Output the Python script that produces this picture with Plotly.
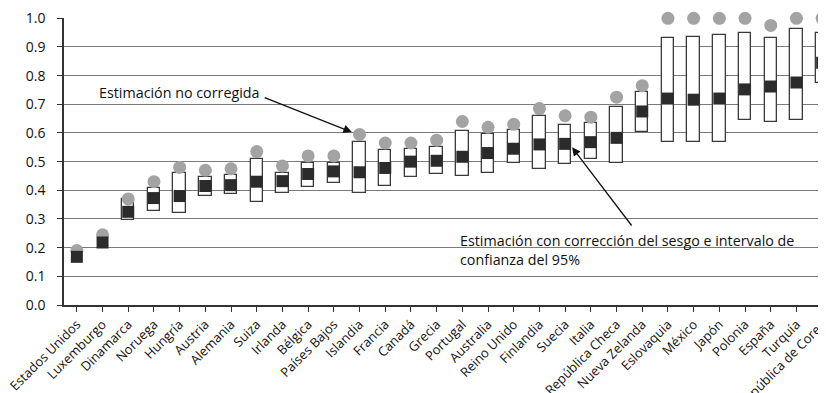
import plotly.graph_objects as go

countries = ["Estados Unidos", "Luxemburgo", "Dinamarca", "Noruega", "Hungría", "Austria",
             "Alemania", "Suiza", "Irlanda", "Bélgica", "Países Bajos", "Islandia", "Francia",
             "Canadá", "Grecia", "Portugal", "Australia", "Reino Unido", "Finlandia", "Suecia",
             "Italia", "República Checa", "Nueva Zelanda", "Eslovaquia", "México", "Japón",
             "Polonia", "España", "Turquía", "República de Corea"]
uncorrected = [0.19, 0.245, 0.37, 0.43, 0.48, 0.47, 0.475, 0.535, 0.485, 0.52, 0.52, 0.595,
               0.565, 0.565, 0.575, 0.64, 0.62, 0.63, 0.685, 0.66, 0.655, 0.725, 0.765,
               1.0, 1.0, 1.0, 1.0, 0.975, 1.0, 1.0]
corrected = [0.168, 0.218, 0.325, 0.373, 0.38, 0.415, 0.418, 0.43, 0.432, 0.457, 0.466, 0.463,
             0.478, 0.5, 0.503, 0.517, 0.53, 0.545, 0.56, 0.562, 0.568, 0.583, 0.675,
             0.72, 0.716, 0.72, 0.752, 0.762, 0.776, 0.845]
ci_low = [None, None, 0.295, 0.328, 0.322, 0.38, 0.387, 0.36, 0.391, 0.41, 0.426, 0.389,
          0.416, 0.447, 0.456, 0.449, 0.459, 0.497, 0.476, 0.491, 0.509, 0.497, 0.604,
          0.567, 0.569, 0.569, 0.645, 0.637, 0.645, 0.776]
ci_high = [None, None, 0.369, 0.408, 0.459, 0.447, 0.453, 0.508, 0.462, 0.496, 0.496, 0.569,
           0.540, 0.544, 0.552, 0.606, 0.595, 0.610, 0.659, 0.627, 0.635, 0.689, 0.743,
           0.933, 0.935, 0.941, 0.950, 0.931, 0.962, 0.947]
y_ticks = [0.0, 0.1, 0.2, 0.3, 0.4, 0.5, 0.6, 0.7, 0.8, 0.9, 1.0]

label_uncorr = "Estimación no corregida"
label_corr = "Estimación con corrección del sesgo e intervalo de<br>confianza del 95%"

FONT = "Open Sans"
TXT = "#111111"
idx = list(range(len(countries)))

heights = [None if (lo is None or hi is None) else hi - lo for lo, hi in zip(ci_low, ci_high)]
bases = [lo for lo in ci_low]

fig = go.Figure()
fig.add_trace(go.Bar(
    x=idx, y=heights, base=bases, width=0.48,
    marker=dict(color="white", line=dict(color="#3a3a3a", width=1.3)),
    showlegend=False, hoverinfo="skip",
))
fig.add_trace(go.Scatter(
    x=idx, y=uncorrected, mode="markers",
    marker=dict(symbol="circle", size=13, color="#a3a3a3"),
    cliponaxis=False, showlegend=False,
))
fig.add_trace(go.Scatter(
    x=idx, y=corrected, mode="markers",
    marker=dict(symbol="square", size=12, color="#2b2b2b"),
    cliponaxis=False, showlegend=False,
))

i_isl = countries.index("Islandia")
i_sue = countries.index("Suecia")

fig.add_annotation(x=0.8, y=0.742, xref="x", yref="y", text=label_uncorr, showarrow=False,
                   xanchor="left", yanchor="middle", font=dict(family=FONT, size=14.3, color=TXT))
fig.add_annotation(x=i_isl - 0.3, y=uncorrected[i_isl] + 0.008, xref="x", yref="y",
                   ax=7.25, ay=0.725, axref="x", ayref="y", text="", showarrow=True,
                   arrowhead=2, arrowsize=1.3, arrowwidth=1.3, arrowcolor="#111")
fig.add_annotation(x=14.85, y=0.193, xref="x", yref="y", text=label_corr, showarrow=False,
                   xanchor="left", yanchor="middle", align="left",
                   font=dict(family=FONT, size=14.3, color=TXT))
fig.add_annotation(x=i_sue + 0.27, y=corrected[i_sue] - 0.012, xref="x", yref="y",
                   ax=21.63, ay=0.272, axref="x", ayref="y", text="", showarrow=True,
                   arrowhead=2, arrowsize=1.3, arrowwidth=1.3, arrowcolor="#111")

# the page body has an 8px margin, so the figure is sized/offset to compensate
fig.update_layout(
    width=818, height=385,
    margin=dict(l=56, r=0, t=10, b=88),
    plot_bgcolor="white", paper_bgcolor="white",
    font=dict(family=FONT, color=TXT),
    bargap=0,
)
fig.update_xaxes(
    range=[-0.5, 29.15], tickmode="array", tickvals=idx, ticktext=countries,
    tickangle=-45, tickfont=dict(family=FONT, size=13, color=TXT),
    showgrid=False, showline=True, linecolor="#333", linewidth=1.5,
    ticks="outside", ticklen=5, tickwidth=1.2, tickcolor="#333", tickson="boundaries",
    zeroline=False, automargin=False, ticklabeloverflow="allow",
)
fig.update_yaxes(
    range=[0, 1.001], tickmode="array", tickvals=y_ticks, tickformat=".1f",
    tickfont=dict(family=FONT, size=14, color=TXT),
    showgrid=True, gridcolor="#7a7a7a", gridwidth=1.2,
    showline=True, linecolor="#333", linewidth=1.5,
    ticks="outside", ticklen=5, tickwidth=1.2, tickcolor="#333",
    zeroline=False, ticklabelstandoff=9, automargin=False, ticklabeloverflow="allow",
)

fig.write_html("out.html")
